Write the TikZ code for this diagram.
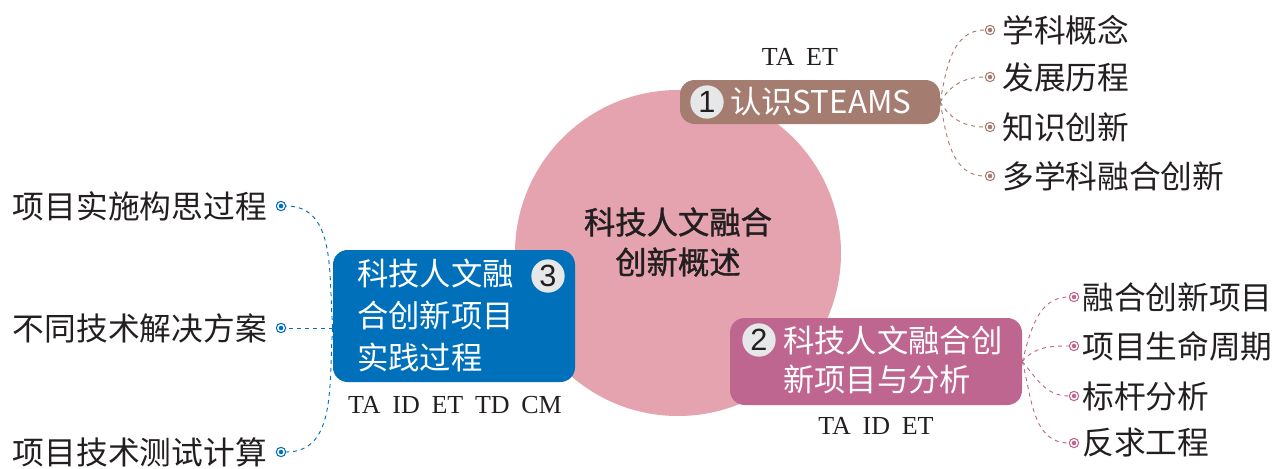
\documentclass[tikz,border=0pt]{standalone}
\usepackage{fontspec}
\usetikzlibrary{calc}
\setmainfont{Noto Sans CJK SC}
\newfontfamily\corefont[FakeBold=1.2]{Noto Sans CJK SC}
\newfontfamily\latf{Liberation Serif}
\newfontfamily\numf{Liberation Sans}
\definecolor{circpink}{HTML}{E4A3AF}
\definecolor{brownbox}{HTML}{A57C70}
\definecolor{mauvebox}{HTML}{BF6690}
\definecolor{bluebox}{HTML}{0070BA}
\definecolor{numgray}{HTML}{E6E7E8}
\definecolor{txt}{HTML}{231F20}
\tikzset{
  boxstyle/.style={rectangle, rounded corners=11pt, fill=#1, inner sep=0pt},
  boxtext/.style={anchor=west, text=white, inner sep=0pt, font=\fontsize{23.5}{28}\selectfont},
  numcirc/.style={circle, fill=numgray, inner sep=0pt, minimum size=25pt, text=txt, font=\numf\fontsize{23}{23}\selectfont},
  leaf/.style={inner sep=0pt, text=txt, font=\fontsize{23.8}{28}\selectfont},
  codes/.style={inner sep=0pt, text=txt, font=\latf\fontsize{19.5}{20}\selectfont},
  dot/.style={circle, draw=#1, line width=0.8pt, fill=white, minimum size=7pt, inner sep=0pt,
    path picture={\fill[#1] (path picture bounding box.center) circle (1.7pt);}},
  link/.style={draw=#1, dashed, line width=0.7pt}
}
\begin{document}
\begin{tikzpicture}[x=0.75pt,y=-0.75pt]
\useasboundingbox (0,0) rectangle (1274,468);
% core circle
\node[circle, fill=circpink, minimum size=244.5pt, inner sep=0pt] (core) at (678,253) {};
\node[align=center, text=txt, font=\corefont\fontsize{23.5}{30}\selectfont] (coretext) at (678,242) {科技人文融合\\创新概述};

% box 1
\node[boxstyle=brownbox, minimum width=195pt, minimum height=33pt] (b1) at (810,102) {};
\node[numcirc] (n1) at (707,102) {1};
\node[boxtext] (t1) at (730,102) {认识STEAMS};
\node[codes] (c1) at (800,57) {TA\hspace{0.45em}ET};

% box 2
\node[boxstyle=mauvebox, minimum width=219pt, minimum height=65.25pt] (b2) at (876,361.5) {};
\node[numcirc] (n2) at (759,340) {2};
\node[boxtext] (t2a) at (783,340) {科技人文融合创};
\node[boxtext] (t2b) at (783,380) {新项目与分析};
\node[codes] (c2) at (876,426) {TA\hspace{0.45em}ID\hspace{0.45em}ET};

% box 3
\node[boxstyle=bluebox, minimum width=181.5pt, minimum height=99pt] (b3) at (454,316) {};
\node[numcirc] (n3) at (548,276) {3};
\node[boxtext] (t3a) at (357,273) {科技人文融};
\node[boxtext] (t3b) at (357,316) {合创新项目};
\node[boxtext] (t3c) at (357,357) {实践过程};
\node[codes] (c3) at (455,405) {TA\hspace{0.45em}ID\hspace{0.45em}ET\hspace{0.45em}TD\hspace{0.45em}CM};

% leaves of box 1
\node[dot=brownbox] (d11) at (990,30) {};
\node[dot=brownbox] (d12) at (990,77) {};
\node[dot=brownbox] (d13) at (990,127) {};
\node[dot=brownbox] (d14) at (990,176) {};
\node[leaf, anchor=west] (l11) at (1002,30) {学科概念};
\node[leaf, anchor=west] (l12) at (1002,77) {发展历程};
\node[leaf, anchor=west] (l13) at (1002,127) {知识创新};
\node[leaf, anchor=west] (l14) at (1002,176) {多学科融合创新};
\draw[link=brownbox] (b1.east) to[out=80, in=180] (d11.west);
\draw[link=brownbox] (b1.east) to[out=60, in=180] (d12.west);
\draw[link=brownbox] (b1.east) to[out=-60, in=180] (d13.west);
\draw[link=brownbox] (b1.east) to[out=-80, in=180] (d14.west);

% leaves of box 2
\node[dot=mauvebox] (d21) at (1074,297) {};
\node[dot=mauvebox] (d22) at (1074,346) {};
\node[dot=mauvebox] (d23) at (1074,396) {};
\node[dot=mauvebox] (d24) at (1074,443) {};
\node[leaf, anchor=west] (l21) at (1082,297) {融合创新项目};
\node[leaf, anchor=west] (l22) at (1082,346) {项目生命周期};
\node[leaf, anchor=west] (l23) at (1082,396) {标杆分析};
\node[leaf, anchor=west] (l24) at (1082,443) {反求工程};
\draw[link=mauvebox] (b2.east) to[out=75, in=180] (d21.west);
\draw[link=mauvebox] (b2.east) to[out=50, in=180] (d22.west);
\draw[link=mauvebox] (b2.east) to[out=-50, in=180] (d23.west);
\draw[link=mauvebox] (b2.east) to[out=-75, in=180] (d24.west);

% leaves of box 3
\coordinate (b3w) at ($(b3.west)+(0,12)$);
\node[dot=bluebox] (d31) at (281,206) {};
\node[dot=bluebox] (d32) at (281,328) {};
\node[dot=bluebox] (d33) at (281,452) {};
\node[leaf, anchor=east] (l31) at (267,206) {项目实施构思过程};
\node[leaf, anchor=east] (l32) at (267,328) {不同技术解决方案};
\node[leaf, anchor=east] (l33) at (267,452) {项目技术测试计算};
\draw[link=bluebox] (b3w) to[out=95, in=0] (d31.east);
\draw[link=bluebox] (b3w) -- (d32.east);
\draw[link=bluebox] (b3w) to[out=-95, in=0] (d33.east);
\end{tikzpicture}
\end{document}
